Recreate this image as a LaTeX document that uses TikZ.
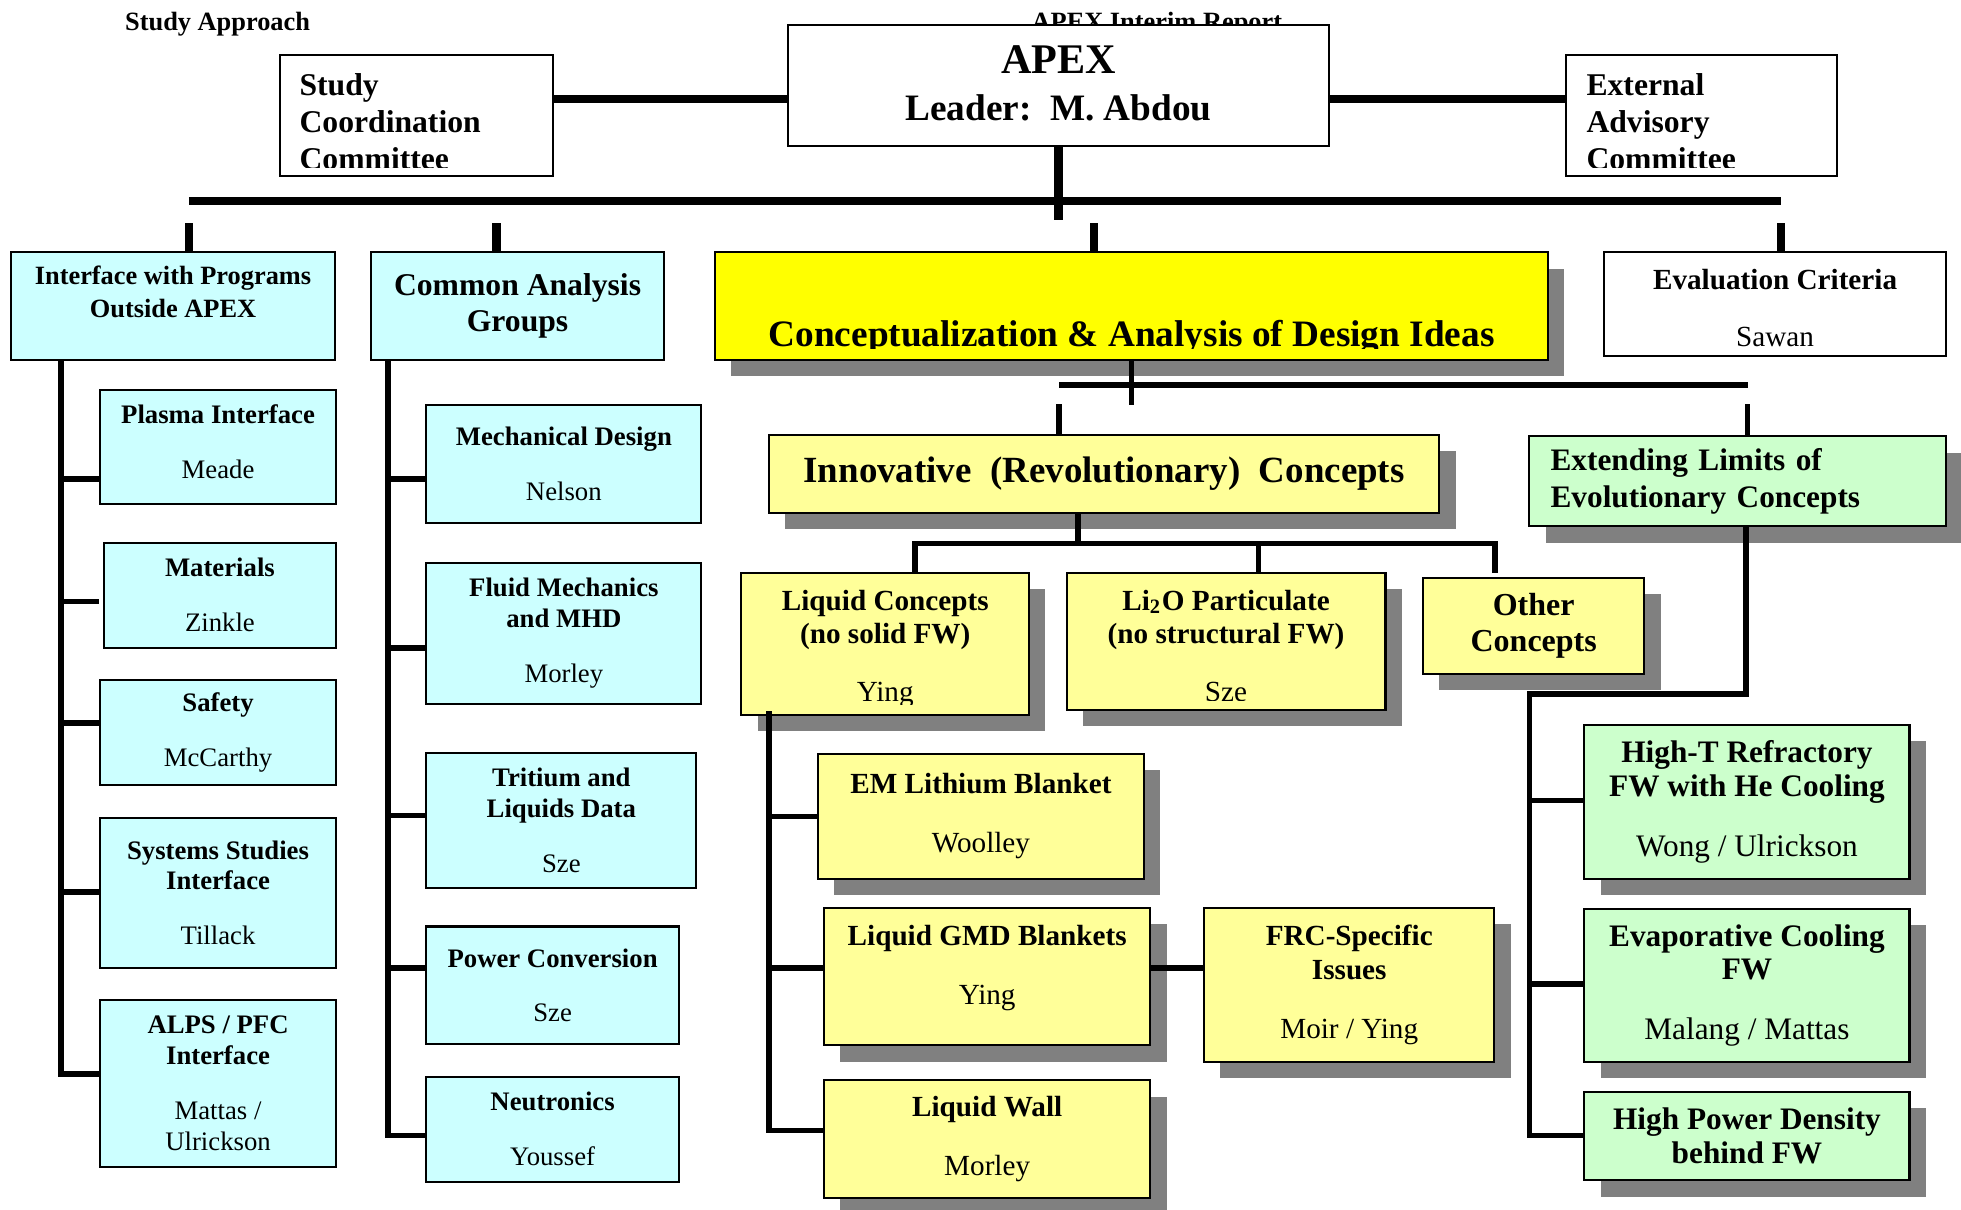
\documentclass[tikz,border=0pt]{standalone}
\usepackage{fontspec}
\setmainfont{Liberation Serif}
\usetikzlibrary{positioning, shadows}

\definecolor{boxcyan}{HTML}{CCFFFF}
\definecolor{boxyellow}{HTML}{FFFF99}
\definecolor{boxgreen}{HTML}{CCFFCC}
\definecolor{brightyellow}{HTML}{FFFF00}
\definecolor{shadowgray}{HTML}{808080}
\newcommand{\pxu}{0.125mm}

\begin{document}
\begin{tikzpicture}[
        x=0.125mm, y=-0.125mm,
        wh/.style 2 args={minimum width=#1*\pxu, minimum height=#2*\pxu},
        plainbox/.style={rectangle, draw=black, line width=0.6pt, fill=white, inner sep=0pt, anchor=north west, align=center},
        groupbox/.style={plainbox, fill=boxcyan},
        taskbox/.style={plainbox, fill=boxcyan, font=\fontsize{7.6}{8.8}\selectfont\bfseries},
        boxshadow/.style={drop shadow={shadow xshift=1.625mm, shadow yshift=-1.625mm, fill=shadowgray, opacity=1}},
        ideabox/.style={plainbox, fill=boxyellow, boxshadow, font=\fontsize{8.3}{9.6}\selectfont\bfseries},
        evolbox/.style={plainbox, fill=boxgreen, boxshadow, font=\fontsize{8.9}{9.6}\selectfont\bfseries},
        cliptext/.style={inner sep=0pt, align=center},
        bus/.style={line width=2.3pt},
        link/.style={line width=1.6pt}
    ]
        \useasboundingbox (0,0) rectangle (1568,967);
        % Page headers
        \node[anchor=base, inner sep=0pt, font=\fontsize{7.5}{9}\selectfont\bfseries] (studytitle) at (174,24) {Study Approach};
        \node[anchor=base, inner sep=0pt, font=\fontsize{7.5}{9}\selectfont\bfseries] (reporttitle) at (925,24) {APEX Interim Report};
        % Top level
        \node[plainbox, wh={433}{97}, font=\fontsize{10.6}{13.5}\selectfont\bfseries] (apex) at (629,19)
            {{\fontsize{12}{13.5}\selectfont APEX}\\Leader:~~M. Abdou\\[-12pt]\mbox{}};
        \node[plainbox, wh={218}{97}] (scc) at (223,43) {};
        \begin{scope}
            \clip (scc.north west) rectangle ([shift={(0,-8)}]scc.south east);
            \node[cliptext, anchor=north west, align=left, font=\fontsize{9}{10.5}\selectfont\bfseries] (scctext) at ([shift={(16,15)}]scc.north west) {Study\\Coordination\\Committee};
        \end{scope}
        \node[plainbox, wh={217}{97}] (eac) at (1251,43) {};
        \begin{scope}
            \clip (eac.north west) rectangle ([shift={(0,-8)}]eac.south east);
            \node[cliptext, anchor=north west, align=left, font=\fontsize{9}{10.5}\selectfont\bfseries] (eactext) at ([shift={(17,15)}]eac.north west) {External\\Advisory\\Committee};
        \end{scope}
        \path ([shift={(0,36)}]scc.north east) coordinate (sccR);
        \path ([shift={(0,36)}]eac.north west) coordinate (eacL);
        \draw[bus] (sccR) -- (sccR -| apex.west);
        \draw[bus] (apex.east |- eacL) -- (eacL);
        % Second level
        \node[groupbox, wh={259}{86}, font=\fontsize{7.5}{9.25}\selectfont\bfseries] (iface) at (8,201) {Interface with Programs\\Outside APEX\\[-1pt]\mbox{}};
        \node[groupbox, wh={234}{86}, font=\fontsize{9}{10.3}\selectfont\bfseries] (common) at (296,201) {Common Analysis\\Groups};
        \node[plainbox, fill=brightyellow, boxshadow, wh={666}{86}] (concept) at (571,201) {};
        \begin{scope}
            \clip (concept.north west) rectangle ([shift={(0,-10)}]concept.south east);
            \node[cliptext, anchor=base, font=\fontsize{10.6}{12}\selectfont\bfseries] (concepttext) at ([shift={(0,-12)}]concept.south) {Conceptualization \& Analysis of Design Ideas};
        \end{scope}
        \node[plainbox, wh={273}{83}] (eval) at (1282,201) {};
        \begin{scope}
            \clip (eval.north west) rectangle ([shift={(0,-8)}]eval.south east);
            \node[cliptext, anchor=north, font=\fontsize{8.3}{9.6}\selectfont\bfseries] (evaltext) at ([shift={(0,14)}]eval.north) {Evaluation Criteria\\[6.4pt]\mdseries Sawan};
        \end{scope}
        % Main bus
        \draw[bus] (apex.south) -- ++(0,58);
        \path ([shift={(143,-40)}]iface.north west) coordinate (busL);
        \path ([shift={(142,-40)}]eval.north west) coordinate (busR);
        \draw[bus] (busL) -- (busR);
        \draw[bus] ([shift={(143,0)}]iface.north west) -- ++(0,-23);
        \draw[bus] ([shift={(101,0)}]common.north west) -- ++(0,-23);
        \draw[bus] ([shift={(304,0)}]concept.north west) -- ++(0,-23);
        \draw[bus] ([shift={(142,0)}]eval.north west) -- ++(0,-23);
        % Interface column
        \node[taskbox, wh={189}{91}] (plasma) at (79,311) {Plasma Interface\\[6.8pt]\mdseries Meade\\[-6pt]\mbox{}};
        \node[taskbox, wh={186}{84}] (mater) at (82,433) {Materials\\[6.8pt]\mdseries Zinkle};
        \node[taskbox, wh={189}{84}] (safety) at (79,543) {Safety\\[6.8pt]\mdseries McCarthy};
        \node[taskbox, wh={189}{120}] (sysst) at (79,653) {Systems Studies\\Interface\\[6.8pt]\mdseries Tillack};
        \node[taskbox, wh={189}{133}] (alps) at (79,799) {ALPS / PFC\\Interface\\[6.8pt]\mdseries Mattas /\\\mdseries Ulrickson};
        \path ([shift={(41,0)}]iface.south west) coordinate (lsp);
        \path ([shift={(0,72)}]plasma.north west) coordinate (bplasma);
        \path ([shift={(-3,48)}]mater.north west) coordinate (bmater);
        \path ([shift={(0,35)}]safety.north west) coordinate (bsafety);
        \path ([shift={(0,60)}]sysst.north west) coordinate (bsysst);
        \path ([shift={(0,60)}]alps.north west) coordinate (balps);
        \draw[link] (lsp) -- (lsp |- balps) -- (balps);
        \foreach \b in {bplasma, bmater, bsafety, bsysst}
            \draw[link] (lsp |- \b) -- (\b);
        % Common analysis column
        \node[taskbox, wh={220}{94}] (mech) at (340,323) {Mechanical Design\\[6.8pt]\mdseries Nelson};
        \node[taskbox, wh={220}{113}] (fluid) at (340,449) {Fluid Mechanics\\and MHD\\[6.8pt]\mdseries Morley};
        \node[taskbox, wh={216}{108}] (trit) at (340,601) {Tritium and\\Liquids Data\\[6.8pt]\mdseries Sze};
        \node[taskbox, wh={202}{94}] (power) at (340,740) {Power Conversion\\[6.8pt]\mdseries Sze};
        \node[taskbox, wh={202}{84}] (neut) at (340,860) {Neutronics\\[6.8pt]\mdseries Youssef};
        \path ([shift={(14,0)}]common.south west) coordinate (msp);
        \path ([shift={(0,60)}]mech.north west) coordinate (bmech);
        \path ([shift={(0,69)}]fluid.north west) coordinate (bfluid);
        \path ([shift={(0,51)}]trit.north west) coordinate (btrit);
        \path ([shift={(0,34)}]power.north west) coordinate (bpower);
        \path ([shift={(0,48)}]neut.north west) coordinate (bneut);
        \draw[link] (msp) -- (msp |- bneut) -- (bneut);
        \foreach \b in {bmech, bfluid, btrit, bpower}
            \draw[link] (msp |- \b) -- (\b);
        % Design ideas split
        \node[ideabox, wh={536}{62}, font=\fontsize{10.5}{12}\selectfont\bfseries] (innov) at (614,347) {Innovative~~(Revolutionary)~~Concepts};
        \node[evolbox, wh={333}{72}, text width=299*\pxu, align=left, font=\fontsize{8.9}{10.3}\selectfont\bfseries] (ext) at (1222,348) {Extending Limits of\\Evolutionary Concepts};
        \path ([shift={(0,19)}]concept.south) coordinate (cbar);
        \path ([shift={(-36,0)}]innov.north) coordinate (dinn);
        \path ([shift={(8,0)}]ext.north) coordinate (dext);
        \draw[link] (concept.south) -- ++(0,35);
        \draw[link] (cbar -| dinn) -- (cbar -| dext);
        \draw[link] (dinn) -- ++(0,-24);
        \draw[link] (dext) -- ++(0,-25);
        % Innovative concepts
        \node[ideabox, wh={230}{114}] (liqc) at (592,457) {};
        \begin{scope}
            \clip (liqc.north west) rectangle ([shift={(0,-9.5)}]liqc.south east);
            \node[cliptext, anchor=north, font=\fontsize{8.3}{9.6}\selectfont\bfseries] (liqctext) at ([shift={(0,14)}]liqc.north) {Liquid Concepts\\(no solid FW)\\[6.8pt]\mdseries Ying};
        \end{scope}
        \node[ideabox, wh={255}{110}] (li2o) at (852,457) {};
        \begin{scope}
            \clip (li2o.north west) rectangle ([shift={(0,-8.5)}]li2o.south east);
            \node[cliptext, anchor=north, font=\fontsize{8.3}{9.6}\selectfont\bfseries] (li2otext) at ([shift={(0,14)}]li2o.north) {Li\textsubscript{2}O Particulate\\(no structural FW)\\[6.8pt]\mdseries Sze};
        \end{scope}
        \node[ideabox, wh={177}{77}, font=\fontsize{9.1}{10.3}\selectfont\bfseries] (other) at (1137,461) {Other\\Concepts};
        \path ([shift={(-21,0)}]innov.south) coordinate (iv);
        \path ([shift={(0,24)}]iv) coordinate (ibar);
        \path ([shift={(24,0)}]liqc.north) coordinate (dliq);
        \path ([shift={(26,0)}]li2o.north) coordinate (dli2o);
        \path ([shift={(-31,-3)}]other.north) coordinate (doth);
        \draw[link] (iv) -- (ibar);
        \draw[link] (dliq) |- (ibar -| doth) -- (doth);
        \draw[link] (dli2o) -- (dli2o |- ibar);
        % Liquid concepts branch
        \node[ideabox, wh={261}{100}] (em) at (653,602) {EM Lithium Blanket\\[7.2pt]\mdseries Woolley};
        \node[ideabox, wh={261}{110}] (gmd) at (658,725) {Liquid GMD Blankets\\[7.2pt]\mdseries Ying\\[-3pt]\mbox{}};
        \node[ideabox, wh={261}{94}] (wall) at (658,863) {Liquid Wall\\[7.2pt]\mdseries Morley};
        \node[ideabox, wh={232}{123}] (frc) at (962,725) {FRC-Specific\\Issues\\[7.2pt]\mdseries Moir / Ying};
        \path ([shift={(23,-4)}]liqc.south west) coordinate (lsp2);
        \path ([shift={(0,51)}]em.north west) coordinate (bem);
        \path ([shift={(0,49)}]gmd.north west) coordinate (bgmd);
        \path ([shift={(0,41)}]wall.north west) coordinate (bwall);
        \path ([shift={(0,49)}]gmd.north east) coordinate (bgmdR);
        \draw[link] (lsp2) -- (lsp2 |- bwall) -- (bwall);
        \draw[link] (lsp2 |- bem) -- (bem);
        \draw[link] (lsp2 |- bgmd) -- (bgmd);
        \draw[link] (bgmdR) -- (bgmdR -| frc.west);
        % Evolutionary concepts branch
        \node[evolbox, wh={260}{123}] (hight) at (1266,579) {High-T Refractory\\FW with He Cooling\\[7.4pt]\mdseries Wong / Ulrickson};
        \node[evolbox, wh={260}{122}] (evap) at (1266,726) {Evaporative Cooling\\FW\\[7.4pt]\mdseries Malang / Mattas};
        \node[evolbox, wh={260}{71}] (hpd) at (1266,872) {High Power Density\\behind FW};
        \path ([shift={(174,0)}]ext.south west) coordinate (extD);
        \path ([shift={(1,133)}]ext.south west) coordinate (rsp);
        \path ([shift={(0,61)}]hight.north west) coordinate (bhight);
        \path ([shift={(0,61)}]evap.north west) coordinate (bevap);
        \path ([shift={(0,36)}]hpd.north west) coordinate (bhpd);
        \draw[link] (extD) |- (rsp) -- (rsp |- bhpd) -- (bhpd);
        \draw[link] (rsp |- bhight) -- (bhight);
        \draw[link] (rsp |- bevap) -- (bevap);
    \end{tikzpicture}
\end{document}
